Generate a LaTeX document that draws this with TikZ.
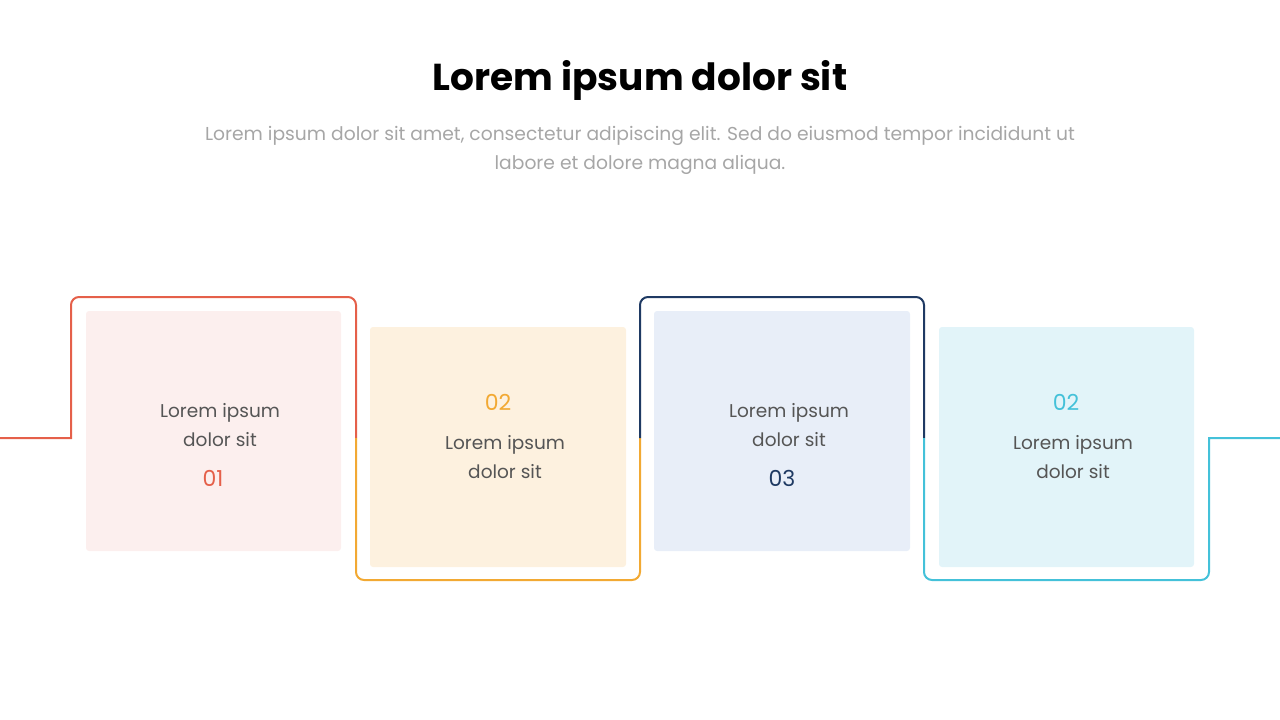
\documentclass[tikz,border=0pt]{standalone}
\usepackage{fontspec}
\setmainfont{Poppins}
\usepackage{xcolor}
\definecolor{step_red}{HTML}{E5604A}
\definecolor{step_yellow}{HTML}{F2A933}
\definecolor{step_navy}{HTML}{1F3A63}
\definecolor{step_cyan}{HTML}{44C1D9}
\definecolor{fill_red}{HTML}{FCEFEE}
\definecolor{fill_yellow}{HTML}{FDF1DF}
\definecolor{fill_navy}{HTML}{E8EEF8}
\definecolor{fill_cyan}{HTML}{E2F4F9}
\definecolor{body_grey}{HTML}{555555}
\definecolor{sub_grey}{HTML}{A6A6A6}

\begin{document}
\begin{tikzpicture}[x=1pt, y=-1pt,
  stepline/.style={line width=2pt},
  card/.style={rounded corners=3pt},
  cardtext/.style={text=body_grey, align=center, font=\fontsize{18.5}{29}\selectfont},
  cardnum/.style={font=\fontsize{22}{26}\selectfont}]
  \useasboundingbox (0,0) rectangle (1280,720);

  % Titre
  \node[font=\bfseries\fontsize{37.5}{42}\selectfont] (title) at (640,80) {Lorem ipsum dolor sit};
  \node[text=sub_grey, align=center, font=\fontsize{18.7}{29}\selectfont] (sub) at (640,150)
    {Lorem ipsum dolor sit amet, consectetur adipiscing elit. Sed do eiusmod tempor incididunt ut\\
     labore et dolore magna aliqua.};

  % Cartes
  \fill[fill_red, card] (86,311) rectangle (341,551);
  \fill[fill_yellow, card] (370,327) rectangle (626,567);
  \fill[fill_navy, card] (654,311) rectangle (910,551);
  \fill[fill_cyan, card] (939,327) rectangle (1194,567);

  % Ligne en creneaux
  \draw[stepline, step_red] (0,438) -- (71,438) [rounded corners=8pt] -- (71,297) -- (356,297) -- (356,438);
  \draw[stepline, step_yellow] (356,438) [rounded corners=8pt] -- (356,580) -- (640,580) -- (640,438);
  \draw[stepline, step_navy] (640,438) [rounded corners=8pt] -- (640,297) -- (924,297) -- (924,438);
  \draw[stepline, step_cyan] (924,438) [rounded corners=8pt] -- (924,580) -- (1209,580) [sharp corners] -- (1209,438) -- (1280,438);

  % Textes
  \node[cardtext] (t1) at (220,425) {Lorem ipsum\\dolor sit};
  \node[cardnum, step_red] (n1) at (213,478) {01};

  \node[cardnum, step_yellow] (n2) at (498,402) {02};
  \node[cardtext] (t2) at (505,457) {Lorem ipsum\\dolor sit};

  \node[cardtext] (t3) at (789,425) {Lorem ipsum\\dolor sit};
  \node[cardnum, step_navy] (n3) at (782,478) {03};

  \node[cardnum, step_cyan] (n4) at (1066,402) {02};
  \node[cardtext] (t4) at (1073,457) {Lorem ipsum\\dolor sit};
\end{tikzpicture}
\end{document}
